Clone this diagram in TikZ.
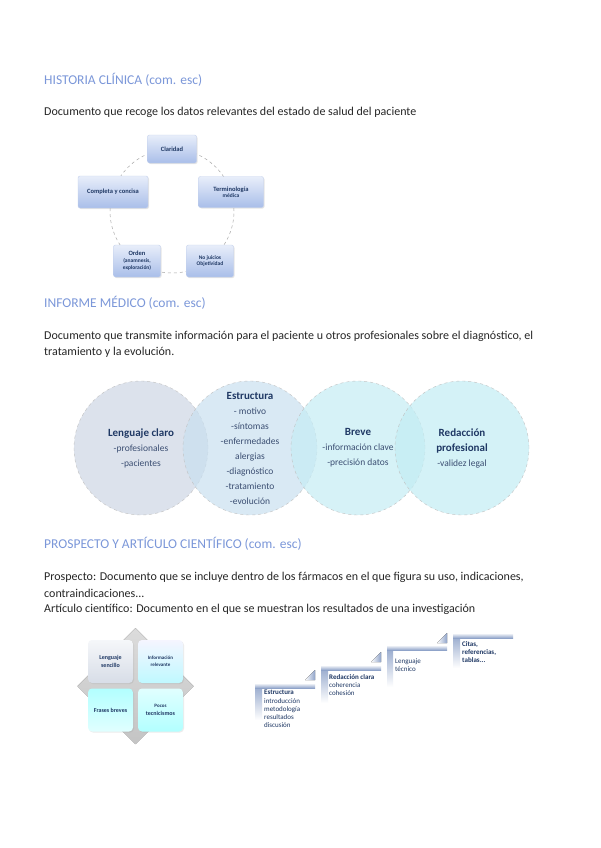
\documentclass[tikz,border=0pt]{standalone}
\usepackage{fontspec}
\setmainfont{Carlito}
\usepackage{tikz}
\usetikzlibrary{positioning, shapes.geometric, shadows}
\definecolor{headblue}{HTML}{7B97D9}
\definecolor{bodytext}{HTML}{262626}
\definecolor{navy}{HTML}{1F3864}
\definecolor{itemnavy}{HTML}{3B4E72}
\definecolor{boxtop}{HTML}{E8EEFA}
\definecolor{boxbot}{HTML}{A9BEE9}
\definecolor{boxline}{HTML}{C3D0EC}
\definecolor{ringgray}{HTML}{A6A6A6}
\definecolor{venna}{HTML}{CED6E4}
\definecolor{vennb}{HTML}{C9E0F0}
\definecolor{vennc}{HTML}{C6EDF5}
\definecolor{vennd}{HTML}{C3EDF4}
\definecolor{quadgray}{HTML}{C4C4C4}
\definecolor{stepblue}{HTML}{8FA3C9}
\newcommand{\venntitle}[1]{{\fontsize{11}{15}\selectfont\bfseries\color{navy}#1}}
\newcommand{\tinytext}{\fontsize{5.5}{6.5}\selectfont}

\begin{document}
\begin{tikzpicture}[
        x=1pt, y=-1pt,
        every node/.style={inner sep=0pt},
        heading/.style={anchor=west, text=headblue, font=\fontsize{13.5}{15}\selectfont},
        bodyline/.style={anchor=west, text=bodytext, font=\fontsize{12}{14}\selectfont},
        cyclering/.style={draw=ringgray, line width=0.5pt, dashed},
        cyclebox/.style={rectangle, rounded corners=2pt, draw=boxline, line width=0.4pt,
                         top color=boxtop, bottom color=boxbot, text=navy, align=center,
                         font=\fontsize{6.5}{7.5}\selectfont\bfseries,
                         drop shadow={opacity=0.2, shadow xshift=1pt, shadow yshift=-1pt}},
        venncircle/.style={circle, minimum size=134pt, draw=ringgray!70, dashed,
                           line width=0.4pt, fill opacity=0.7},
        venntext/.style={align=center, text=itemnavy, font=\fontsize{9.5}{15}\selectfont},
        quadbox/.style={rectangle, rounded corners=4pt, minimum width=45pt, minimum height=43pt,
                        align=center, text=navy, font=\fontsize{6}{7.5}\selectfont\bfseries,
                        drop shadow={opacity=0.15, shadow xshift=1pt, shadow yshift=-1pt}},
        stepbarh/.style={top color=white, bottom color=stepblue},
        stepbarv/.style={top color=stepblue, bottom color=white},
        steptri/.style={left color=white, right color=stepblue},
        steptext/.style={anchor=north west, align=left, text=navy,
                         font=\fontsize{7}{8.3}\selectfont}
    ]
        \useasboundingbox[fill=white] (0,0) rectangle (600,848);

        % historia clinica
        \node[heading]  (hctitle) at (44,80)  {HISTORIA CLÍNICA (com. esc)};
        \node[bodyline] (hcdef)   at (44,112) {Documento que recoge los datos relevantes del estado de salud del paciente};

        \coordinate (ringc) at (172,211);
        \draw[cyclering] (ringc) circle[radius=62pt];
        \node[cyclebox, minimum width=49pt, minimum height=28pt] (claridad) at (172,149) {Claridad};
        \node[cyclebox, minimum width=70pt, minimum height=32pt] (completa) at (113,192) {Completa y concisa};
        \node[cyclebox, minimum width=65pt, minimum height=31pt] (terminologia) at (231,192)
            {Terminología\\[-1pt]\tinytext médica};
        \node[cyclebox, minimum width=47pt, minimum height=32pt] (orden) at (137,261)
            {Orden\\[-1pt]\tinytext (anamnesis,\\\tinytext exploración)};
        \node[cyclebox, minimum width=47pt, minimum height=32pt, font=\tinytext\bfseries] (juicios) at (210,261)
            {No juicios\\Objetividad};

        % informe medico
        \node[heading]  (imtitle) at (44,303) {INFORME MÉDICO (com. esc)};
        \node[bodyline] (imdefa)  at (44,336) {Documento que transmite información para el paciente u otros profesionales sobre el diagnóstico, el};
        \node[bodyline] (imdefb)  at (44,352) {tratamiento y la evolución.};

        \node[venncircle, fill=venna] (circlaro)  at (141,448) {};
        \node[venncircle, fill=vennb] (circestr)  at (250,448) {};
        \node[venncircle, fill=vennc] (circbreve) at (358,448) {};
        \node[venncircle, fill=vennd] (circredac) at (462,448) {};

        \node[venntext] (claro) at (circlaro) {\venntitle{Lenguaje claro}\\-profesionales\\-pacientes};
        \node[venntext] (estructura) at (circestr)
            {\venntitle{Estructura}\\- motivo\\-síntomas\\-enfermedades\\alergias\\-diagnóstico\\-tratamiento\\-evolución};
        \node[venntext] (breve) at (circbreve) {\venntitle{Breve}\\-información clave\\-precisión datos};
        \node[venntext] (redaccion) at (circredac)
            {\venntitle{Redacción}\\\venntitle{profesional}\\-validez legal};

        % prospecto y articulo
        \node[heading]  (patitle) at (44,544) {PROSPECTO Y ARTÍCULO CIENTÍFICO (com. esc)};
        \node[bodyline] (padefa)  at (44,577) {Prospecto: Documento que se incluye dentro de los fármacos en el que figura su uso, indicaciones,};
        \node[bodyline] (padefb)  at (44,593) {contraindicaciones...};
        \node[bodyline] (padefc)  at (44,609) {Artículo científico: Documento en el que se muestran los resultados de una investigación};

        \fill[top color=quadgray!60, bottom color=quadgray] (135.5,628) -- (193.5,686) -- (135.5,744) -- (77.5,686) -- cycle;
        \node[quadbox, top color=white!80!venna, bottom color=venna!90!navy!60] (sencillo) at (110.5,661.5) {Lenguaje\\sencillo};
        \node[quadbox, top color=blue!4, bottom color=blue!10!cyan!25, font=\fontsize{5}{6.5}\selectfont\bfseries]
            (relevante) at (160.5,661.5) {Información\\relevante};
        \node[quadbox, top color=cyan!30, bottom color=cyan!12] (frases) at (110.5,710) {Frases breves};
        \node[quadbox, top color=cyan!12, bottom color=cyan!30] (pocos) at (160.5,710)
            {\fontsize{5}{6.5}\selectfont Pocos\\tecnicismos};

        % escalera
        \fill[stepbarv] (255,683) rectangle (262,720);
        \fill[stepbarh] (255,683) rectangle (315,688);
        \fill[steptri]  (305,680) -- (315,680) -- (315,670) -- cycle;
        \node[steptext] (estructurapaso) at (264,690)
            {\textbf{Estructura}\\introducción\\metodología\\resultados\\discusión};

        \fill[stepbarv] (321,665) rectangle (328,703);
        \fill[stepbarh] (321,665) rectangle (381,670);
        \fill[steptri]  (371,662) -- (381,662) -- (381,652) -- cycle;
        \node[steptext] (redaccionpaso) at (329,674)
            {\textbf{Redacción clara}\\coherencia\\cohesión};

        \fill[stepbarv] (387,645) rectangle (393,687);
        \fill[stepbarh] (387,645) rectangle (447,650);
        \fill[steptri]  (437,643) -- (447,643) -- (447,633) -- cycle;
        \node[steptext] (tecnicopaso) at (395,658) {Lenguaje\\técnico};

        \fill[stepbarv] (453,633) rectangle (460,668);
        \fill[stepbarh] (453,633) rectangle (513,638);
        \node[steptext, font=\fontsize{7}{8.3}\selectfont\bfseries] (citaspaso) at (462,641)
            {Citas,\\referencias,\\tablas...};
    \end{tikzpicture}
\end{document}
